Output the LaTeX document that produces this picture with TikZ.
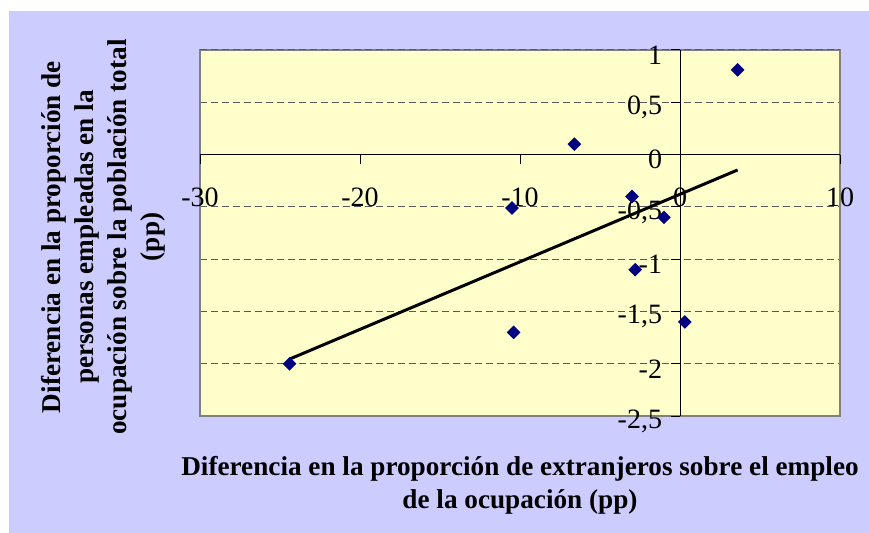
\documentclass[tikz,border=0pt]{standalone}
\usepackage{fontspec}
\setmainfont{Liberation Serif}
\usetikzlibrary{shapes.geometric}
\definecolor{fondo}{HTML}{CCCCFF}
\definecolor{zona}{HTML}{FFFFCC}
\definecolor{marino}{HTML}{000080}

\begin{document}
\begin{tikzpicture}[x=0.5pt,y=-0.5pt,
    rejilla/.style={black!65,dash pattern=on 3.5pt off 2pt,line width=0.5pt},
    punto/.style={diamond,fill=marino,inner sep=0pt,minimum width=7pt,minimum height=7pt},
    etiq/.style={font=\fontsize{14}{16}\selectfont,inner sep=0pt},
    titulo/.style={font=\fontsize{13.6}{16.5}\selectfont\bfseries,align=center}]
  \useasboundingbox (0,0) rectangle (869,533);
  % Background
  \fill[white] (0,0) rectangle (869,533);
  \fill[fondo] (9,11) rectangle (869,533);

  % Plot area, data coordinates
  \begin{scope}[shift={(680,154.6)},x=8pt,y=52.3pt]
    \fill[zona] (-30,-2.5) rectangle (10,1);
    \foreach \v in {0.5,-0.5,-1,-1.5,-2}
      \draw[rejilla] (-30,\v) -- (10,\v);
    \draw[gray,line width=0.75pt] (-30,-2.5) rectangle (10,1);
    \draw[rejilla] (-30,1) -- (10,1);

    % Axes and ticks
    \draw[line width=0.5pt] (-30,0) -- (10,0);
    \draw[line width=0.5pt] (0,1) -- (0,-2.5);
    \foreach \t in {-30,-20,-10,0,10}
      \draw[line width=0.5pt] (\t,0) -- ++(0pt,-4.5pt);
    \foreach \v in {1,0.5,0,-0.5,-1,-1.5,-2,-2.5}
      \draw[line width=0.5pt] (0,\v) -- ++(-4.5pt,0pt);

    % Tick labels
    \foreach \t [count=\i] in {-30,-20,-10,0,10}
      \node[etiq] (tx\i) at (\t,-0.405) {\t};
    \foreach \v/\lab [count=\i] in {1/1,0.5/{0,5},0/0,-0.5/{-0,5},-1/-1,-1.5/{-1,5},-2/-2,-2.5/{-2,5}}
      \node[etiq,anchor=east] (ty\i) at (-1.1,\v-0.05) {\lab};

    % Trend line
    \coordinate (t0) at (-24.4,-1.955);
    \coordinate (t1) at (3.6,-0.147);
    \draw[line width=1.5pt] (t0) -- (t1);

    % Data
    \foreach \px/\py [count=\i] in {3.6/0.81,-6.6/0.1,-10.5/-0.51,-3.0/-0.4,-1.0/-0.6,-2.8/-1.1,0.3/-1.6,-10.4/-1.7,-24.4/-2.0}
      \node[punto] (p\i) at (\px,\py) {};
  \end{scope}

  % Axis titles
  \node[titulo,rotate=90] (ytitulo) at (103.5,237)
    {Diferencia en la proporción de\\personas empleadas en la\\ocupación sobre la población total\\(pp)};
  \node[titulo] (xtitulo) at (520,485)
    {Diferencia en la proporción de extranjeros sobre el empleo\\de la ocupación (pp)};
\end{tikzpicture}
\end{document}
